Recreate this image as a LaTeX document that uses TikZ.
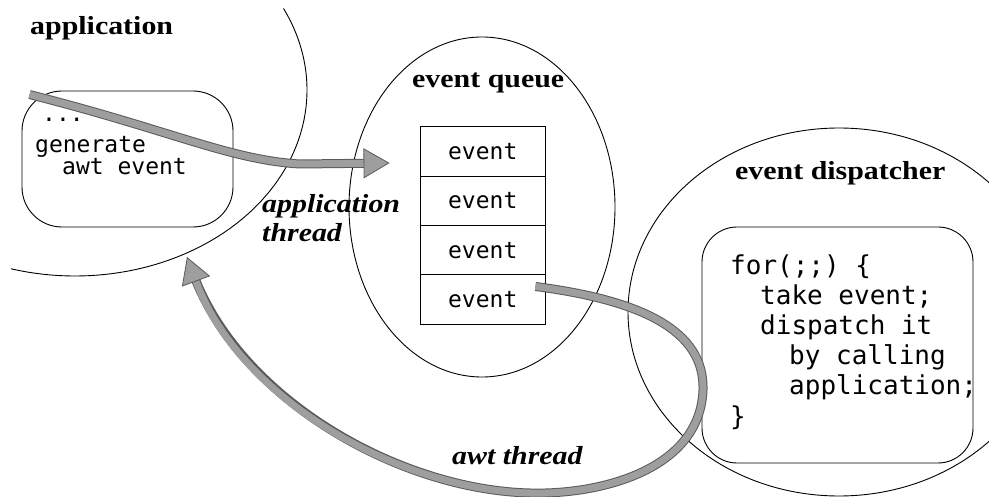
\documentclass[tikz,border=0pt]{standalone}
\usepackage{fontspec}
\setmainfont{Liberation Serif}
\newfontfamily\codefont{DejaVu Sans Mono}
\usetikzlibrary{arrows.meta,calc,shapes.geometric}
\newcommand\mywide[1]{\scalebox{1.15}[1]{#1}}
\definecolor{arrowfill}{HTML}{9E9E9E}
\definecolor{arrowedge}{HTML}{5A5A5A}
\begin{document}
\begin{tikzpicture}[x=1pt,y=-1pt,
  outline/.style={draw=black,line width=0.9pt},
  title/.style={anchor=base west,inner sep=0pt,font=\fontsize{26}{28}\selectfont\bfseries},
  ititle/.style={anchor=base west,inner sep=0pt,font=\fontsize{26}{28}\selectfont\bfseries\itshape},
  code/.style={anchor=base west,inner sep=0pt,font=\codefont\fontsize{23}{26}\selectfont},
  bigcode/.style={anchor=base west,inner sep=0pt,font=\codefont\fontsize{26}{30}\selectfont},
  evbox/.style={outline,minimum width=124.5pt,minimum height=49.3pt,inner sep=0pt,font=\codefont\fontsize{23}{26}\selectfont},
  roundbox/.style={outline,inner sep=0pt},
  thread/.style={line width=7pt,draw=arrowfill,
     preaction={-,draw=arrowedge,line width=9pt,shorten >=18pt},
     -{Triangle[length=26pt,width=30pt,fill=arrowfill,color=arrowedge,line width=0.8pt]}}
]
\useasboundingbox (0,0) rectangle (989,497);
\clip (0,0) rectangle (989,497);

% application region
\draw[outline] plot[domain=-26:106,samples=80,smooth] ({75+232*cos(\x)},{90+186*sin(\x)});
\node[title] (apptitle) at (30,35) {\mywide{application}};
\node[roundbox,minimum width=211pt,minimum height=136pt,rounded corners=40pt] (appbox) at (127.5,159) {};
\node[code] (dots) at (42,122) {...};
\node[code] (gen) at (35,153) {generate};
\node[code] (awt) at (62,175) {awt event};

% event queue
\node[outline,ellipse,minimum width=266pt,minimum height=340pt,inner sep=0pt] (queue) at (482,207) {};
\node[title] (qtitle) at (412,88) {\mywide{event queue}};
\node[evbox] (e1) at (482.75,151.6) {event};
\node[evbox] (e2) at (482.75,200.9) {event};
\node[evbox] (e3) at (482.75,250.2) {event};
\node[evbox] (e4) at (482.75,299.5) {event};

% event dispatcher
\node[outline,ellipse,minimum width=422pt,minimum height=368pt,inner sep=0pt] (disp) at (839,312) {};
\node[title] (dtitle) at (735,180) {\mywide{event dispatcher}};
\node[roundbox,minimum width=271pt,minimum height=236pt,rounded corners=35pt] (dispbox) at (837.5,345) {};
\node[bigcode] (l1) at (730,275) {for(;;) \{};
\node[bigcode] (l2) at (760,305) {take event;};
\node[bigcode] (l3) at (760,335) {dispatch it};
\node[bigcode] (l4) at (789,365) {by calling};
\node[bigcode] (l5) at (789,395) {application;};
\node[bigcode] (l6) at (730,425) {\}};

% thread labels
\node[ititle] (at1) at (262,213) {\mywide{application}};
\node[ititle] (at2) at (262,242) {\mywide{thread}};
\node[ititle] (awtl) at (452,464) {\mywide{awt thread}};

% arrows
\coordinate (a1s) at ($(appbox.north west)+(8,4)$);
\coordinate (a1e) at ($(queue.west)+(41,-44)$);
\coordinate (a2s) at ($(e4.east)+(-10,-13)$);
\coordinate (a2e) at (187,257);
\draw[thread] (a1s) .. controls (170,130) and (230,160) .. (300,164) -- (a1e);
\draw[thread] (a2s) .. controls (640,300) and (705,330) .. (703,390)
   .. controls (700,470) and (600,495) .. (530,493)
   .. controls (400,490) and (240,400) .. (a2e);
\end{tikzpicture}
\end{document}
